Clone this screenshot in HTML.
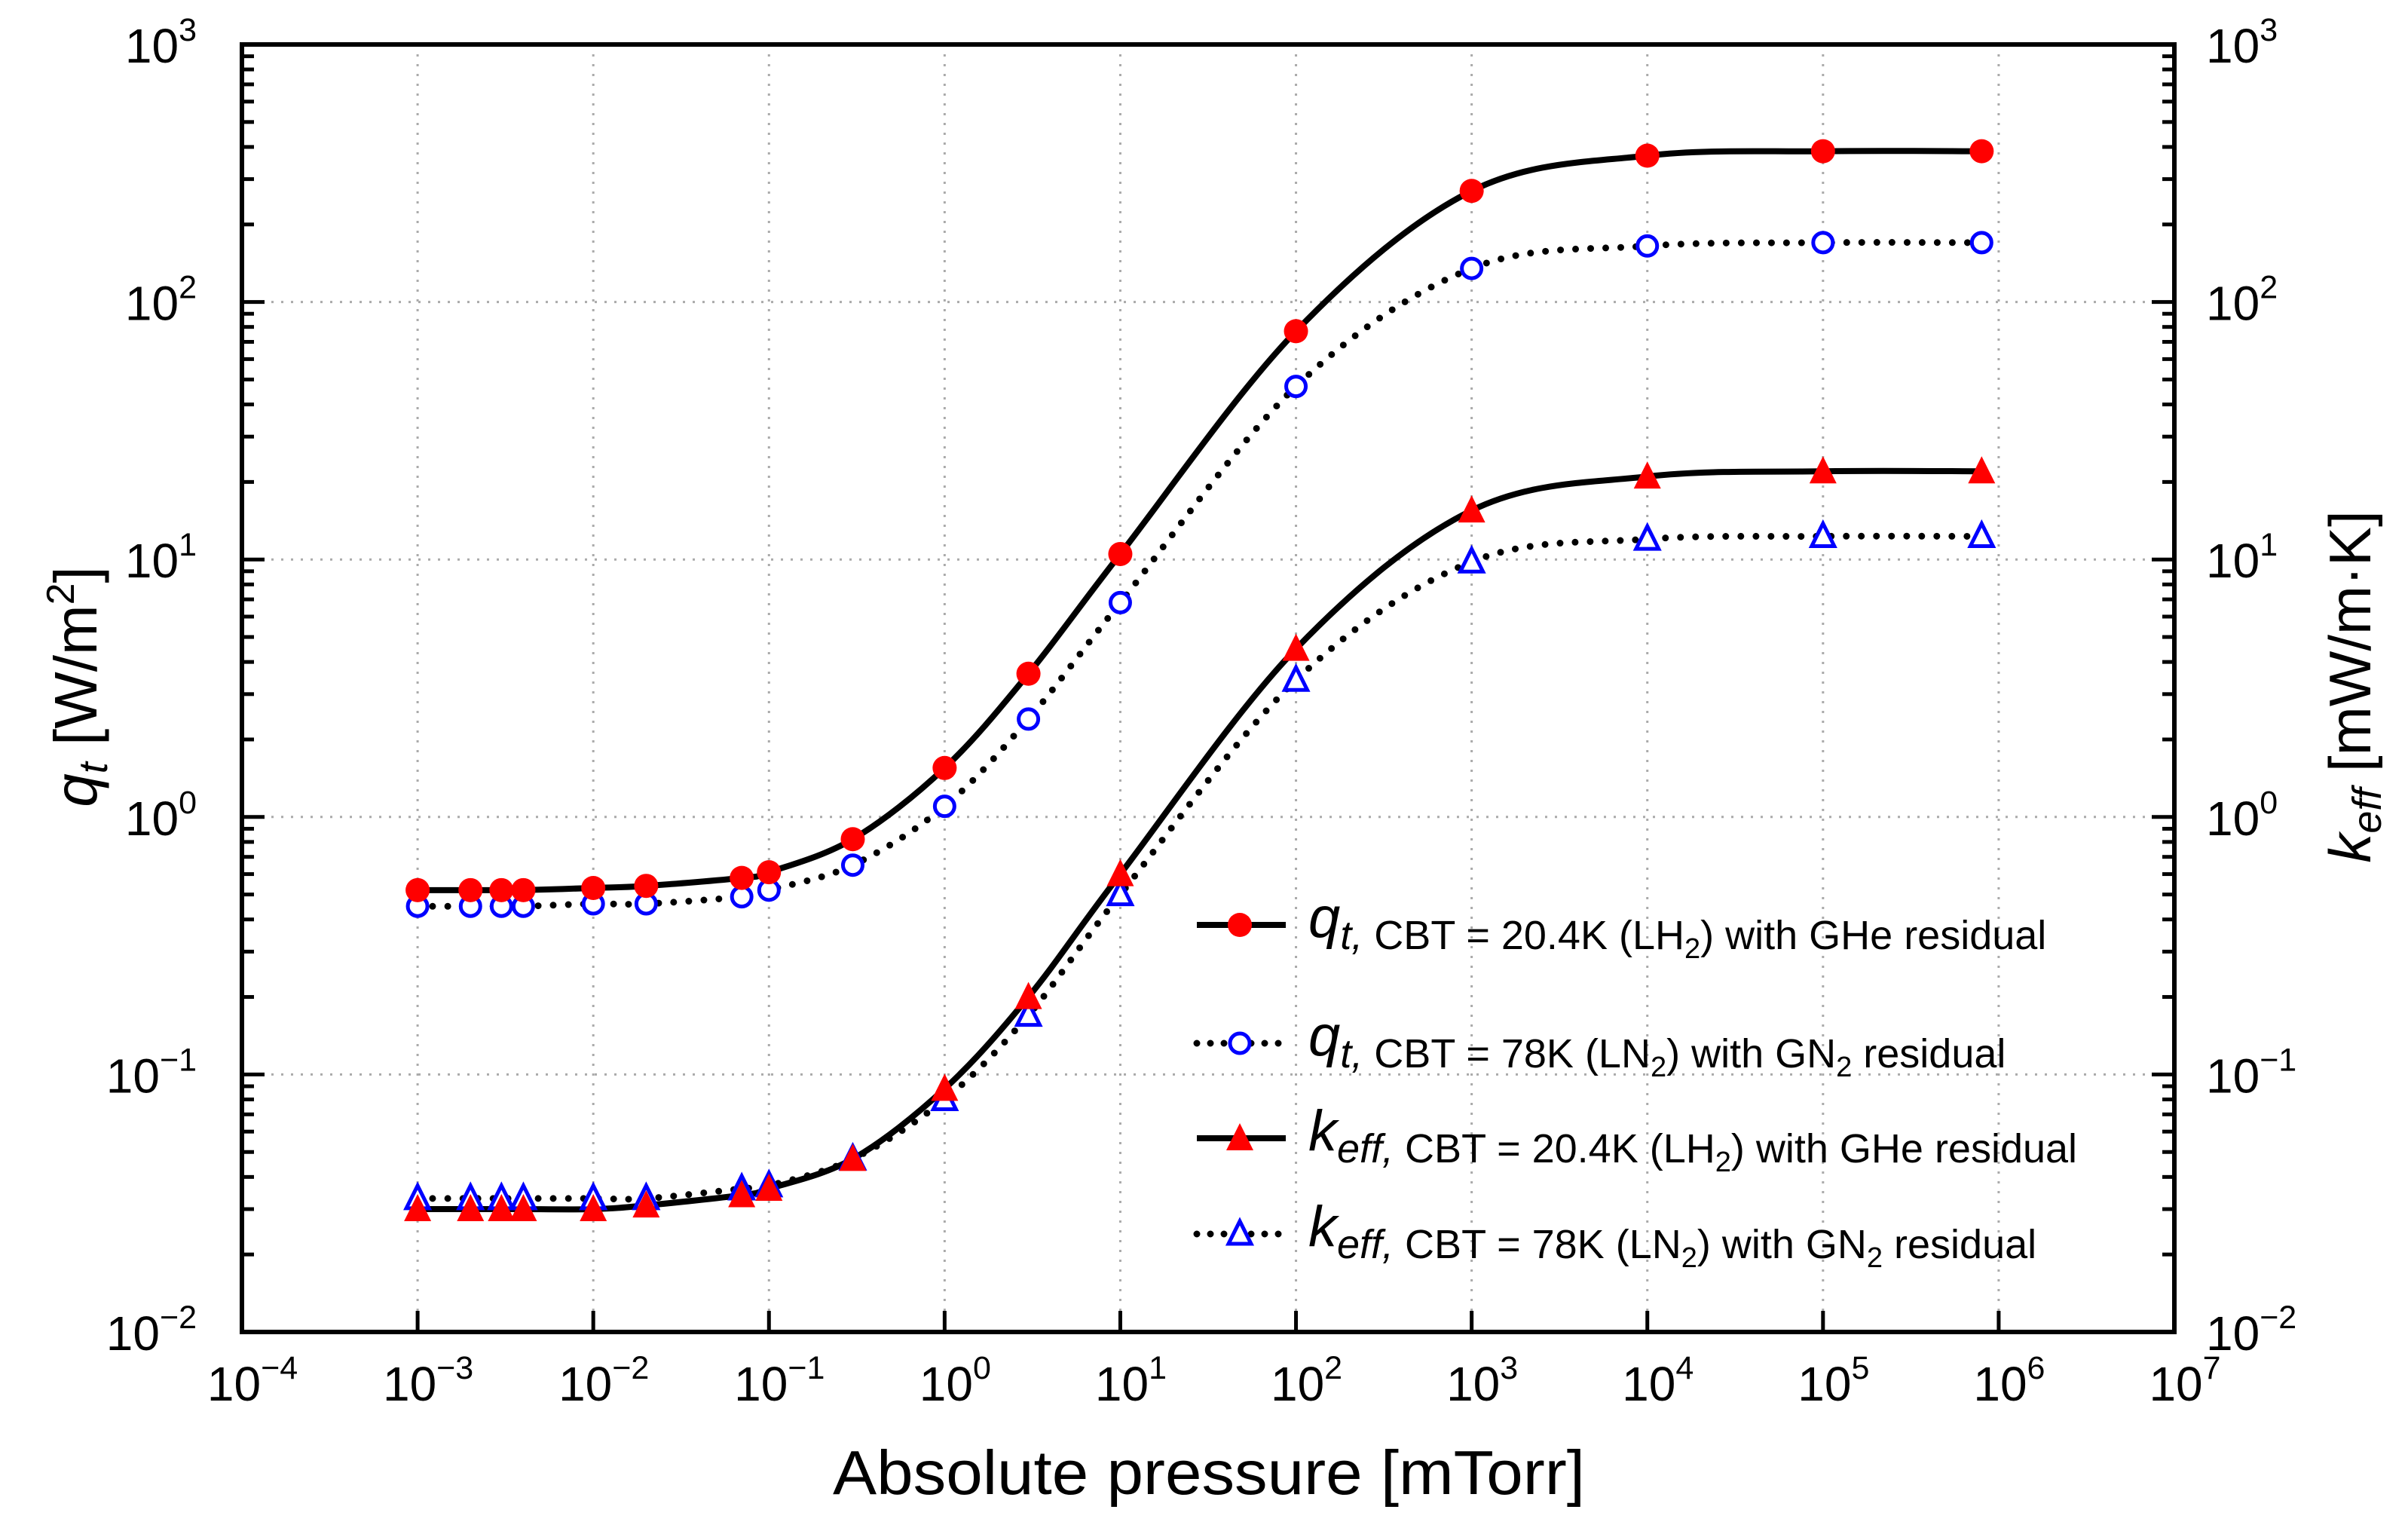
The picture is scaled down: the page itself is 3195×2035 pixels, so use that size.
<!DOCTYPE html>
<html><head><meta charset="utf-8"><style>
html,body{margin:0;padding:0;background:#fff;}
svg{display:block;font-family:"Liberation Sans",Arial,sans-serif;}
</style></head><body>
<svg id="chart" width="3195" height="2035" viewBox="0 0 3195 2035" xmlns="http://www.w3.org/2000/svg">
<rect width="3195" height="2035" fill="#fff"/>
<g id="grid"></g>
<g id="ticks"></g>
<g id="lines"></g>
<g id="marks"></g>
<rect x="321" y="59" width="2564" height="1708" fill="none" stroke="#000" stroke-width="6"/>
<g id="labels" font-size="64" fill="#000"></g>
<text x="1604" y="1982" font-size="83" text-anchor="middle" textLength="998" lengthAdjust="spacingAndGlyphs">Absolute pressure [mTorr]</text>
<text transform="translate(128,911) rotate(-90)" font-size="80" text-anchor="middle"><tspan font-style="italic">q</tspan><tspan font-style="italic" font-size="54" dy="14">t</tspan><tspan dy="-14"> [W/m</tspan><tspan font-size="52" dy="-30">2</tspan><tspan dy="30">]</tspan></text>
<text transform="translate(3145,911) rotate(-90)" font-size="78" text-anchor="middle"><tspan font-style="italic">k</tspan><tspan font-style="italic" font-size="54" dy="14">eff</tspan><tspan dy="-14"> [mW/m·K]</tspan></text>
<g id="legend"></g>
</svg>
<script>
const pressures=[1e-3,2e-3,3e-3,4e-3,1e-2,2e-2,7e-2,1e-1,3e-1,1,3,10,100,1000,1e4,1e5,8e5];
const qtLH2=[0.52,0.52,0.52,0.52,0.53,0.54,0.58,0.61,0.82,1.55,3.6,10.5,77,270,370,385,385];
const qtLN2=[0.45,0.45,0.45,0.45,0.46,0.46,0.49,0.52,0.65,1.1,2.4,6.8,47,135,165,170,170];
const keffLH2=[0.03,0.03,0.03,0.03,0.03,0.031,0.034,0.036,0.047,0.088,0.2,0.6,4.5,15.5,21,22,22];
const keffLN2=[0.033,0.033,0.033,0.033,0.033,0.033,0.036,0.037,0.047,0.08,0.17,0.5,3.4,9.8,12,12.3,12.3];
const xTickExps=[-4,-3,-2,-1,0,1,2,3,4,5,6,7];
const yTickExps=[-2,-1,0,1,2,3];

const L=321,R=2885,T=59,B=1767;
const X=p=>L+(Math.log10(p)+4)*(R-L)/11;
const Y=v=>T+(3-Math.log10(v))*(B-T)/5;
const NS='http://www.w3.org/2000/svg';
function mk(tag,attrs,parent){const e=document.createElementNS(NS,tag);for(const k in attrs)e.setAttribute(k,attrs[k]);parent.appendChild(e);return e;}
const grid=document.getElementById('grid'),ticks=document.getElementById('ticks'),labels=document.getElementById('labels');
const lines=document.getElementById('lines'),marks=document.getElementById('marks'),legend=document.getElementById('legend');
function expStr(e){return e<0?'\u2212'+(-e):''+e;}
function powLabel(x,y,e,anchor,name){
  const t=mk('text',{x:x,y:y,'text-anchor':anchor},labels);
  
  
  const a=mk('tspan',{},t);a.textContent='10';
  const b=mk('tspan',{'font-size':'43',dy:'-29'},t);b.textContent=expStr(e);
}
xTickExps.forEach(e=>{
  const x=X(Math.pow(10,e));
  if(e>-4&&e<7){
    const g=mk('line',{x1:x,x2:x,y1:T,y2:B,stroke:'#aaa','stroke-width':3,'stroke-dasharray':'3 10'},grid);
    
    
    const tk=mk('line',{x1:x,x2:x,y1:B,y2:B-28,stroke:'#000','stroke-width':5},ticks);
    
    
  }
  powLabel(x+14,1858,e,'middle','x-tick-label');
});
yTickExps.forEach(e=>{
  const y=Y(Math.pow(10,e));
  if(e>-2&&e<3){
    const g=mk('line',{x1:L,x2:R,y1:y,y2:y,stroke:'#aaa','stroke-width':3,'stroke-dasharray':'3 10'},grid);
    
    
  }
  for(const side of [L,R]){
    const dir=side===L?1:-1;
    const tk=mk('line',{x1:side,x2:side+dir*30,y1:y,y2:y,stroke:'#000','stroke-width':5},ticks);
    
    
    if(e<3){for(let m=2;m<=9;m++){
      const ym=Y(m*Math.pow(10,e));
      const mt=mk('line',{x1:side,x2:side+dir*16,y1:ym,y2:ym,stroke:'#000','stroke-width':5},ticks);
      
      
    }}
  }
  powLabel(285-24,y+24,e,'end','left-y-tick-label');
  powLabel(2927,y+24,e,'start','right-y-tick-label');
});
function curvePath(xs,ys){
  const pts=xs.map((p,i)=>[X(p),Y(ys[i])]);
  let d='M'+pts[0][0]+','+pts[0][1];
  for(let i=0;i<pts.length-1;i++){
    const p0=pts[Math.max(0,i-1)],p1=pts[i],p2=pts[i+1],p3=pts[Math.min(pts.length-1,i+2)];
    const c1=[p1[0]+(p2[0]-p0[0])/6,p1[1]+(p2[1]-p0[1])/6];
    const c2=[p2[0]-(p3[0]-p1[0])/6,p2[1]-(p3[1]-p1[1])/6];
    d+=' C'+c1[0]+','+c1[1]+' '+c2[0]+','+c2[1]+' '+p2[0]+','+p2[1];
  }
  return d;
}
const series=[
  {vals:qtLH2,dash:false,mark:'circle',fill:true,name:'qt-lh2'},
  {vals:qtLN2,dash:true,mark:'circle',fill:false,name:'qt-ln2'},
  {vals:keffLH2,dash:false,mark:'tri',fill:true,name:'keff-lh2'},
  {vals:keffLN2,dash:true,mark:'tri',fill:false,name:'keff-ln2'}
];
function marker(x,y,s,parent){
  let e;
  const st=s.fill?{fill:'#ff0000',stroke:'none'}:{fill:'#fff',stroke:'#0000ff','stroke-width':5};
  if(s.mark==='circle'){e=mk('circle',Object.assign({cx:x,cy:y,r:s.fill?16:13},st),parent);}
  else{const h=s.fill?18:15;e=mk('polygon',Object.assign({points:(x)+','+(y-h-2)+' '+(x+h)+','+(y+h-2)+' '+(x-h)+','+(y+h-2)},st),parent);}
  return e;
}
function lineAttrs(s){return s.dash?{fill:'none',stroke:'#000','stroke-width':9,'stroke-linecap':'round','stroke-dasharray':'0 20'}:{fill:'none',stroke:'#000','stroke-width':8};}
series.forEach(s=>{
  const p=mk('path',Object.assign({d:curvePath(pressures,s.vals)},lineAttrs(s)),lines);
  
  
});
[series[1],series[3],series[0],series[2]].forEach(s=>{
  pressures.forEach((pr,i)=>{
    const m=marker(X(pr),Y(s.vals[i]),s,marks);
    
    
  });
});
const legRows=[1227,1384,1510,1637];
const legText=[
 ['q','t,',' CBT = 20.4K (LH','2',') with GHe residual',''],
 ['q','t,',' CBT = 78K (LN','2',') with GN','2',' residual'],
 ['k','eff,',' CBT = 20.4K (LH','2',') with GHe residual',''],
 ['k','eff,',' CBT = 78K (LN','2',') with GN','2',' residual']
];
series.forEach((s,i)=>{
  const y=legRows[i];
  const g=mk('g',{},legend);
  
  
  mk('line',Object.assign({x1:1588,x2:1706,y1:y,y2:y},lineAttrs(s),s.dash?{'stroke-dasharray':'0 18'}:{}),g);
  marker(1645,y,s,g);
  const t=mk('text',{x:1736,y:y+16,'font-size':'54'},g);
  const parts=legText[i];
  const a=mk('tspan',{'font-style':'italic','font-size':'76'},t);a.textContent=parts[0];
  const b=mk('tspan',{'font-style':'italic','font-size':'54',dy:'16'},t);b.textContent=parts[1];
  const c=mk('tspan',{},t);c.textContent=parts[2];
  const d=mk('tspan',{'font-size':'38',dy:'12'},t);d.textContent=parts[3];
  const e=mk('tspan',{dy:'-12'},t);e.textContent=parts[4];
  if(parts[5]){const f=mk('tspan',{'font-size':'38',dy:'12'},t);f.textContent=parts[5];
    const h=mk('tspan',{dy:'-12'},t);h.textContent=parts[6];}
});
</script>
</body></html>
